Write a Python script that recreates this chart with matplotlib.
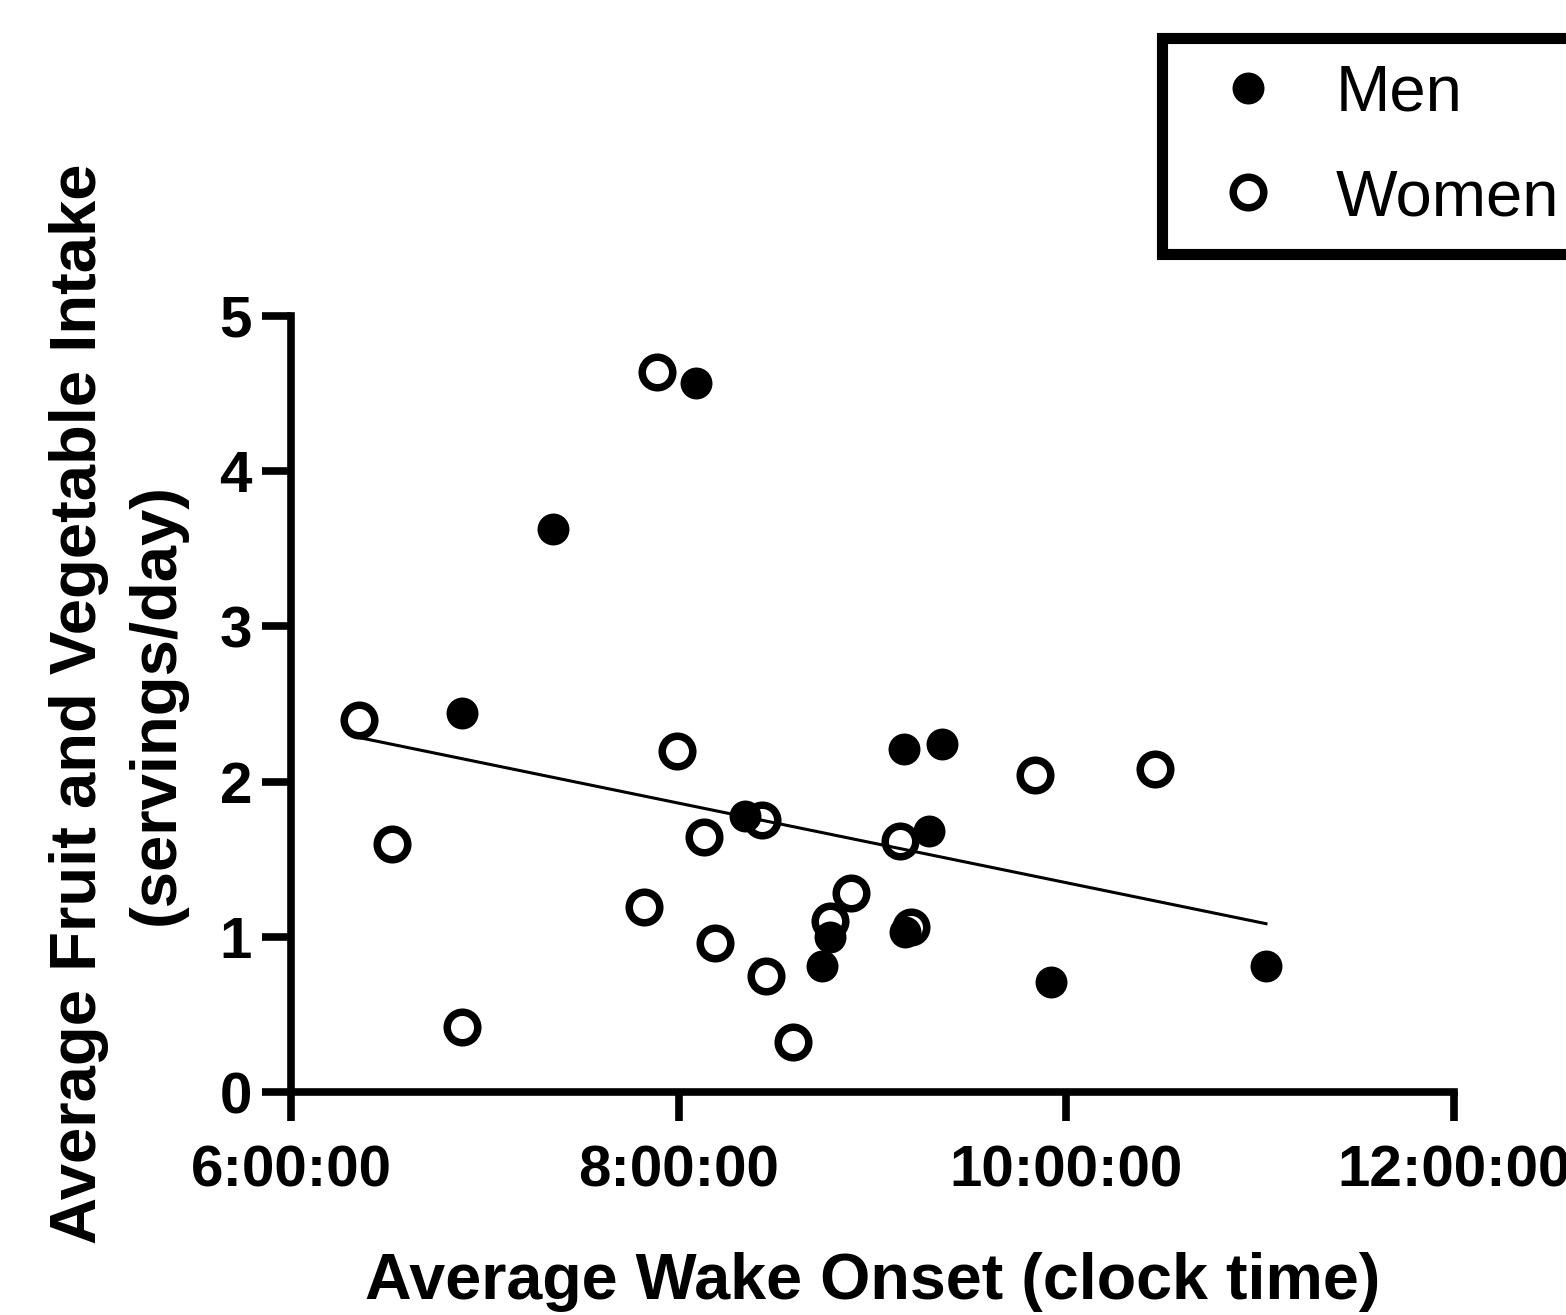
import matplotlib
matplotlib.use("Agg")
import matplotlib.pyplot as plt
import numpy as np

plt.rcParams["font.family"] = ["Liberation Sans", "DejaVu Sans"]

# wake onset in decimal hours, intake in servings/day
men_wake = [8.09, 7.35, 6.88, 9.16, 9.36, 8.34, 9.29, 9.17, 8.78, 8.74, 9.92, 11.03]
men_intake = [4.57, 3.63, 2.44, 2.21, 2.24, 1.78, 1.68, 1.03, 1.00, 0.81, 0.71, 0.81]

women_wake = [7.89, 6.35, 6.52, 6.88, 7.99, 8.13, 8.43, 7.82, 8.19, 8.45,
              8.59, 8.78, 8.89, 9.14, 9.20, 9.84, 10.46]
women_intake = [4.64, 2.40, 1.60, 0.42, 2.20, 1.64, 1.75, 1.19, 0.96, 0.75,
                0.32, 1.10, 1.28, 1.62, 1.06, 2.04, 2.08]

x_ticks = [6, 8, 10, 12]
x_tick_labels = ["6:00:00", "8:00:00", "10:00:00", "12:00:00"]
y_ticks = [0, 1, 2, 3, 4, 5]

fig = plt.figure(figsize=(15.66, 13.15), dpi=100)
ax = fig.add_axes([291 / 1566, 1 - 1092 / 1315, (1454 - 291) / 1566, (1092 - 316) / 1315])

ax.plot(men_wake, men_intake, "o", color="black", markersize=23, mew=0,
        label="Men", clip_on=False, zorder=3)
ax.plot(women_wake, women_intake, "o", markerfacecolor="none", markeredgecolor="black",
        markersize=22, mew=5.4, label="Women", clip_on=False, zorder=3)

# linear fit over all subjects
all_x = np.array(men_wake + women_wake)
all_y = np.array(men_intake + women_intake)
slope, intercept = np.polyfit(all_x, all_y, 1)
fit_x = np.array([all_x.min(), all_x.max()])
ax.plot(fit_x, slope * fit_x + intercept, color="black", linewidth=2.2, zorder=2)

ax.set_xlim(6, 12)
ax.set_ylim(0, 5)
ax.set_xticks(x_ticks)
ax.set_xticklabels(x_tick_labels)
ax.set_yticks(y_ticks)

for side in ["top", "right"]:
    ax.spines[side].set_visible(False)
for side in ["left", "bottom"]:
    ax.spines[side].set_linewidth(5.5)

ax.tick_params(axis="both", direction="out", length=21, width=5.5, labelsize=42)
ax.tick_params(axis="x", pad=17)
ax.tick_params(axis="y", pad=7)
for lbl in ax.get_xticklabels() + ax.get_yticklabels():
    lbl.set_fontweight("bold")

ax.set_xlabel("Average Wake Onset (clock time)", fontsize=46.5, fontweight="bold", labelpad=38)
ax.set_ylabel("Average Fruit and Vegetable Intake\n(servings/day)", fontsize=47,
              fontweight="bold", labelpad=24, linespacing=1.37)

leg = fig.legend(loc="upper left", bbox_to_anchor=(1162 / 1566, 1 - 37.5 / 1315),
                 borderaxespad=0, fontsize=47, frameon=True, fancybox=False, framealpha=1,
                 handlelength=1.83, handletextpad=0.43, borderpad=0.4, labelspacing=0.68)
leg.get_frame().set_edgecolor("black")
leg.get_frame().set_linewidth(8)

fig.savefig("out.png", dpi=100)
